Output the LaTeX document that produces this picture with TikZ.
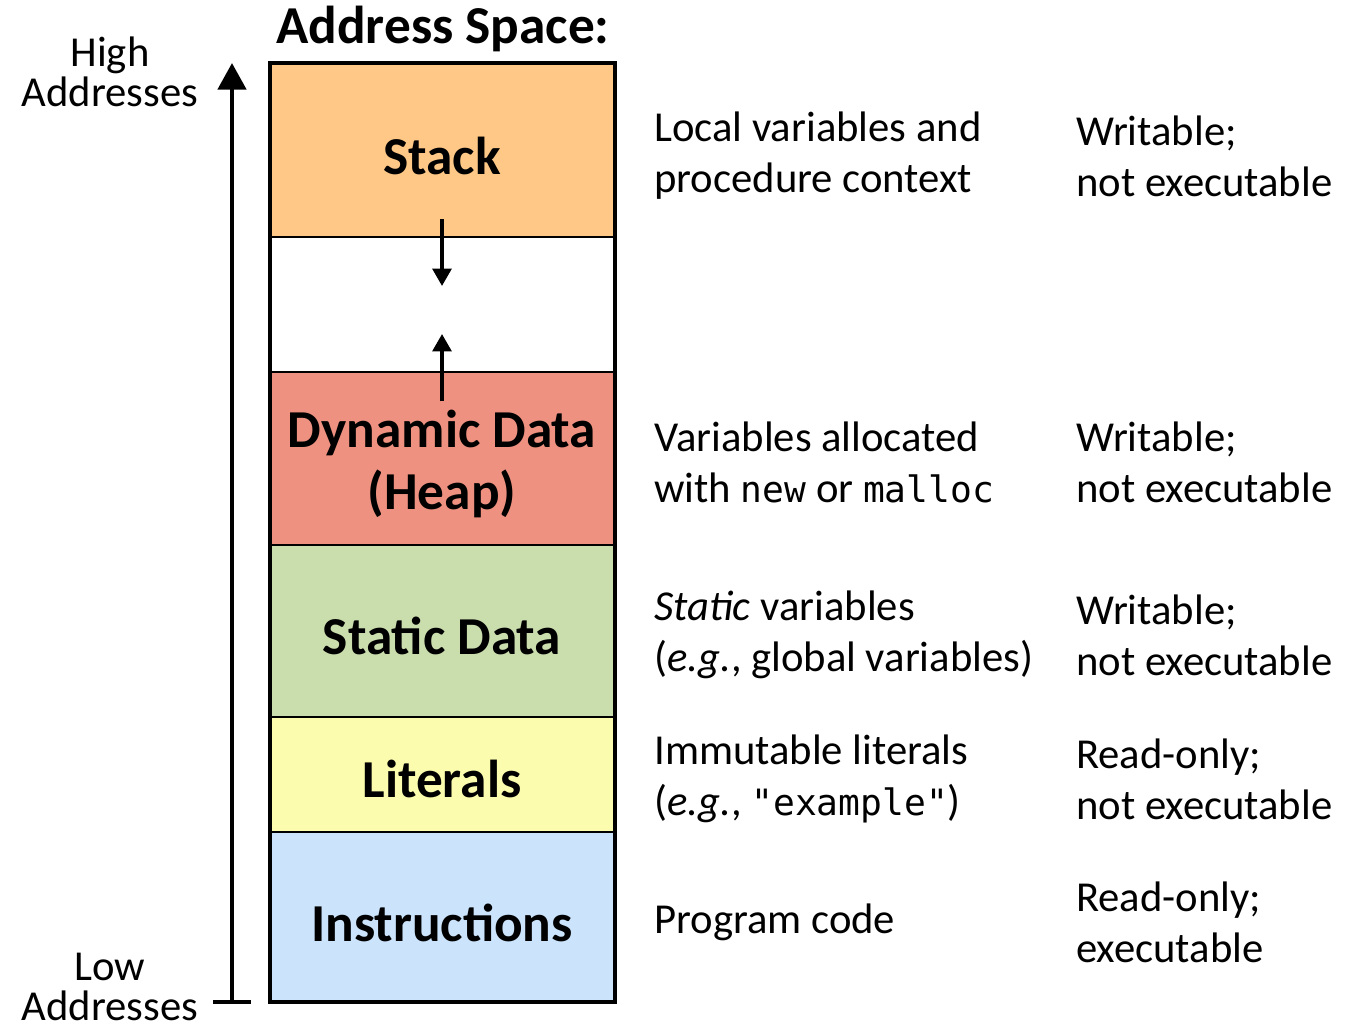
\documentclass[tikz,border=0pt]{standalone}
\usepackage{fontspec}
\setmainfont{Carlito}
\setmonofont{DejaVu Sans Mono}[Scale=0.85]
\usetikzlibrary{arrows.meta}

\definecolor{stackfill}{RGB}{255,200,135}
\definecolor{heapfill}{RGB}{238,145,128}
\definecolor{staticfill}{RGB}{202,221,173}
\definecolor{litfill}{RGB}{251,252,174}
\definecolor{instrfill}{RGB}{203,228,252}

\tikzset{
  seg/.style={draw=black, line width=1.1pt},
  segname/.style={font=\fontsize{40}{46.5}\selectfont\bfseries, align=center, inner sep=0.75pt},
  note/.style={anchor=west, font=\fontsize{32}{38.2}\selectfont, align=left, inner sep=0.75pt},
  sidelbl/.style={font=\fontsize{32}{30}\selectfont, align=center, inner sep=0pt},
  growarrow/.style={line width=2.8pt, -{Triangle[length=13pt,width=14pt]}}
}

\begin{document}
\begin{tikzpicture}[x=0.75pt,y=0.75pt,yscale=-1,xscale=1]
\useasboundingbox (0,0) rectangle (1352,1028);

%Segments, top to bottom
\draw [seg, fill=stackfill] (270,63) rectangle (615,237) ;
\draw [seg, fill=white] (270,237) rectangle (615,372) ;
\draw [seg, fill=heapfill] (270,372) rectangle (615,545) ;
\draw [seg, fill=staticfill] (270,545) rectangle (615,717) ;
\draw [seg, fill=litfill] (270,717) rectangle (615,832) ;
\draw [seg, fill=instrfill] (270,832) rectangle (615,1002) ;
%Outer frame
\draw [line width=3pt] (270,63) rectangle (615,1002) ;

% Segment names
\node [segname] (title) at (443,29) {Address Space:};
\node [segname] (stack) at (442,156) {Stack};
\node [segname] (heap) at (442,464) {Dynamic Data\\(Heap)};
\node [segname] (static) at (442,636) {Static Data};
\node [segname] (literals) at (442,779) {Literals};
\node [segname] (instr) at (442,923) {Instructions};

% Growth arrows
\coordinate (stacktop) at (442,219);
\coordinate (stackend) at (442,286);
\coordinate (heaptop) at (442,401);
\coordinate (heapend) at (442,334);
\draw [growarrow] (stacktop) -- (stackend) ;
\draw [growarrow] (heaptop) -- (heapend) ;

% Address axis
\coordinate (low) at (232,1002);
\coordinate (high) at (232,63);
\coordinate (tickl) at (213,1002);
\coordinate (tickr) at (251,1002);
\draw [line width=3.6pt, -{Triangle[length=20pt,width=21pt]}] (low) -- (high) ;
\draw [line width=3.6pt] (tickl) -- (tickr) ;
\node [sidelbl] (hi) at (110,72) {High\\Addresses};
\node [sidelbl] (lo) at (110,987) {Low\\Addresses};

% What each segment holds
\node [note] (d1) at (653,156) {Local variables and\\procedure context};
\node [note] (d2) at (653,462) {Variables allocated\\with \texttt{new} or \texttt{malloc}};
\node [note] (d3) at (653,635) {\textit{Static} variables\\(\textit{e.g.}, global variables)};
\node [note] (d4) at (653,779) {Immutable literals\\(\textit{e.g.}, \texttt{"example"})};
\node [note] (d5) at (653,922) {Program code};

% Permissions
\node [note] (p1) at (1075,156) {Writable;\\not executable};
\node [note] (p2) at (1075,462) {Writable;\\not executable};
\node [note] (p3) at (1075,635) {Writable;\\not executable};
\node [note] (p4) at (1075,779) {Read-only;\\not executable};
\node [note] (p5) at (1075,922) {Read-only;\\executable};

\end{tikzpicture}
\end{document}
